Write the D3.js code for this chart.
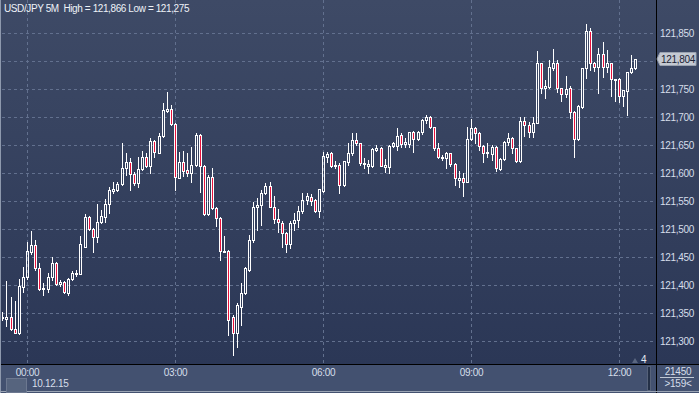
<!DOCTYPE html>
<html>
<head>
<meta charset="utf-8">
<script src="https://cdn.jsdelivr.net/npm/d3@7"></script>
<style>
  body { margin: 0; background: #2d3a58; }
  svg { display: block; font-family: "Liberation Sans", Arial, sans-serif; }
</style>
</head>
<body>
<svg id="chart" width="699" height="393"></svg>
<script>
// USD/JPY 5 minute bars, first bar 23:30 (bar 6 = 00:00)
const opens = [
  121.341,121.339,121.343,121.321,121.314,121.396,121.414,121.459,121.471,121.430,
  121.393,121.393,121.414,121.439,121.402,121.405,121.386,121.411,121.420,121.420,
  121.468,121.521,121.500,121.486,121.513,121.521,121.545,121.568,121.570,121.580,
  121.609,121.620,121.598,121.582,121.607,121.629,121.613,121.657,121.636,121.666,
  121.711,121.714,121.688,121.591,121.620,121.605,121.600,121.614,121.668,121.613,
  121.527,121.593,121.538,121.520,121.461,121.461,121.343,121.314,121.361,121.386,
  121.427,121.480,121.539,121.543,121.564,121.577,121.539,121.518,121.511,121.493,
  121.473,121.511,121.516,121.532,121.552,121.557,121.552,121.532,121.568,121.629,
  121.636,121.613,121.614,121.579,121.620,121.636,121.659,121.654,121.616,121.613,
  121.613,121.641,121.645,121.611,121.611,121.648,121.648,121.668,121.652,121.652,
  121.673,121.661,121.673,121.695,121.700,121.682,121.645,121.629,121.627,121.636,
  121.616,121.588,121.591,121.584,121.661,121.680,121.671,121.648,121.636,121.634,
  121.646,121.607,121.625,121.655,121.663,121.645,121.621,121.693,121.686,121.673,
  121.689,121.796,121.752,121.754,121.788,121.796,121.752,121.741,121.752,121.709,
  121.661,121.718,121.788,121.854,121.796,121.789,121.813,121.789,121.796,121.766,
  121.768,121.738,121.746,121.780,121.788
];
const highs = [
  121.352,121.407,121.379,121.371,121.411,121.432,121.477,121.496,121.480,121.439,
  121.404,121.421,121.450,121.441,121.409,121.407,121.413,121.425,121.427,121.488,
  121.527,121.523,121.502,121.545,121.534,121.554,121.575,121.584,121.584,121.654,
  121.636,121.627,121.602,121.629,121.639,121.636,121.663,121.659,121.671,121.725,
  121.745,121.721,121.689,121.638,121.639,121.636,121.646,121.671,121.670,121.614,
  121.596,121.609,121.539,121.521,121.488,121.463,121.346,121.368,121.404,121.432,
  121.489,121.548,121.555,121.570,121.582,121.584,121.559,121.536,121.514,121.495,
  121.514,121.529,121.541,121.564,121.564,121.563,121.554,121.571,121.638,121.638,
  121.638,121.621,121.618,121.621,121.654,121.671,121.671,121.654,121.627,121.623,
  121.645,121.650,121.646,121.625,121.650,121.655,121.680,121.671,121.663,121.673,
  121.675,121.675,121.696,121.704,121.702,121.682,121.654,121.632,121.638,121.636,
  121.618,121.604,121.600,121.682,121.696,121.682,121.673,121.650,121.654,121.650,
  121.648,121.627,121.657,121.671,121.664,121.645,121.700,121.700,121.691,121.700,
  121.818,121.796,121.766,121.802,121.821,121.802,121.752,121.773,121.755,121.711,
  121.721,121.788,121.866,121.859,121.798,121.823,121.834,121.820,121.796,121.768,
  121.770,121.748,121.780,121.811,121.804
];
const lows = [
  121.338,121.327,121.320,121.314,121.313,121.388,121.411,121.455,121.427,121.391,
  121.382,121.388,121.409,121.400,121.398,121.386,121.382,121.409,121.416,121.420,
  121.468,121.498,121.459,121.477,121.511,121.513,121.529,121.564,121.568,121.579,
  121.596,121.570,121.579,121.575,121.605,121.611,121.600,121.629,121.636,121.664,
  121.709,121.686,121.570,121.591,121.595,121.595,121.584,121.613,121.566,121.525,
  121.525,121.536,121.505,121.445,121.459,121.311,121.275,121.289,121.329,121.384,
  121.425,121.477,121.498,121.507,121.563,121.539,121.511,121.495,121.468,121.459,
  121.466,121.498,121.504,121.529,121.545,121.543,121.530,121.521,121.566,121.620,
  121.611,121.609,121.564,121.577,121.614,121.632,121.650,121.614,121.609,121.600,
  121.611,121.639,121.613,121.602,121.600,121.646,121.641,121.646,121.646,121.646,
  121.638,121.659,121.670,121.689,121.680,121.641,121.627,121.623,121.609,121.613,
  121.579,121.575,121.559,121.584,121.659,121.654,121.641,121.620,121.629,121.623,
  121.604,121.605,121.623,121.650,121.636,121.620,121.620,121.666,121.664,121.664,
  121.689,121.743,121.734,121.752,121.784,121.745,121.729,121.736,121.698,121.629,
  121.659,121.716,121.770,121.784,121.782,121.743,121.771,121.780,121.738,121.729,
  121.727,121.720,121.704,121.779,121.786
];
const closes = [
  121.343,121.343,121.321,121.314,121.398,121.414,121.461,121.471,121.430,121.393,
  121.395,121.414,121.439,121.402,121.405,121.388,121.411,121.421,121.421,121.473,
  121.521,121.500,121.486,121.513,121.523,121.545,121.570,121.571,121.580,121.609,
  121.620,121.598,121.582,121.607,121.629,121.613,121.657,121.638,121.666,121.713,
  121.714,121.688,121.593,121.620,121.604,121.600,121.614,121.668,121.613,121.527,
  121.593,121.538,121.520,121.461,121.459,121.338,121.314,121.364,121.386,121.430,
  121.480,121.539,121.543,121.564,121.577,121.539,121.518,121.513,121.493,121.473,
  121.511,121.516,121.532,121.552,121.559,121.550,121.532,121.571,121.630,121.634,
  121.613,121.614,121.579,121.621,121.636,121.659,121.654,121.618,121.618,121.616,
  121.643,121.645,121.613,121.614,121.648,121.654,121.666,121.652,121.655,121.673,
  121.661,121.673,121.695,121.700,121.682,121.645,121.629,121.627,121.636,121.616,
  121.591,121.591,121.584,121.661,121.680,121.671,121.648,121.636,121.638,121.646,
  121.609,121.625,121.655,121.663,121.645,121.621,121.693,121.686,121.673,121.689,
  121.796,121.752,121.755,121.789,121.796,121.752,121.741,121.750,121.709,121.661,
  121.720,121.788,121.854,121.796,121.789,121.813,121.789,121.796,121.768,121.768,
  121.738,121.748,121.780,121.788,121.804
];

const timeTickBars = [6, 42, 78, 114, 150];
const timeTickLabels = ["00:00", "03:00", "06:00", "09:00", "12:00"];
const priceTicks = [121.30, 121.35, 121.40, 121.45, 121.50, 121.55, 121.60, 121.65, 121.70, 121.75, 121.80, 121.85];
const dateLabel = "10.12.15";
const barCount = "21450";
const visibleBars = ">159<";

const svg = d3.select("#chart"),
      width = +svg.attr("width"),
      height = +svg.attr("height");

const plotRight = 656, plotBottom = 364;

const x = d3.scaleLinear().domain([6, 150]).range([27, 619]);
const y = d3.scaleLinear().domain([121.30, 121.85]).range([341, 33]);
const fmt = d => d3.format(".3f")(d).replace(".", ",");
const last = closes[closes.length - 1];
const lastY = Math.round(y(last));

const defs = svg.append("defs");
const grad = defs.append("linearGradient")
    .attr("id", "bg").attr("x1", 0).attr("y1", 0).attr("x2", 0).attr("y2", 1);
grad.append("stop").attr("offset", "0%").attr("stop-color", "#3e4a66");
grad.append("stop").attr("offset", "100%").attr("stop-color", "#2b3756");
defs.append("clipPath").attr("id", "plotclip")
  .append("rect").attr("x", 2).attr("y", 0).attr("width", plotRight - 2).attr("height", plotBottom);

// backgrounds
svg.append("rect").attr("width", width).attr("height", plotBottom).attr("fill", "url(#bg)");
svg.append("rect").attr("y", plotBottom).attr("width", width).attr("height", height - plotBottom)
    .attr("fill", "#435170");

// grid
const grid = svg.append("g").attr("stroke", "#62708e").attr("stroke-dasharray", "3,3");
grid.selectAll("line.h").data(priceTicks).enter().append("line")
    .attr("x1", 2).attr("x2", plotRight)
    .attr("y1", d => Math.round(y(d)) + 0.5).attr("y2", d => Math.round(y(d)) + 0.5);
grid.selectAll("line.v").data(timeTickBars).enter().append("line")
    .attr("y1", 0).attr("y2", plotBottom)
    .attr("x1", d => Math.round(x(d)) + 0.5).attr("x2", d => Math.round(x(d)) + 0.5);

// candles
const bars = opens.map((o, i) => ({ i, o, h: highs[i], l: lows[i], c: closes[i] }));
const cg = svg.append("g").attr("clip-path", "url(#plotclip)");
bars.forEach(d => {
    const cx = Math.round(x(d.i));
    const top = Math.round(y(Math.max(d.o, d.c)));
    const bot = Math.round(y(Math.min(d.o, d.c)));
    const hy = Math.round(y(d.h)), ly = Math.round(y(d.l));
    if (hy < top) cg.append("line").attr("x1", cx + 0.5).attr("x2", cx + 0.5)
        .attr("y1", hy).attr("y2", top).attr("stroke", "#fff");
    if (ly > bot) cg.append("line").attr("x1", cx + 0.5).attr("x2", cx + 0.5)
        .attr("y1", bot + 1).attr("y2", ly + 1).attr("stroke", "#fff");
    cg.append("rect")
        .attr("x", cx - 0.5).attr("width", 2)
        .attr("y", top + 0.5).attr("height", Math.max(bot - top, 1))
        .attr("fill", d.c < d.o ? "#e8123c" : "none")
        .attr("stroke", "#fff").attr("stroke-width", 1);
});

// frame lines
svg.append("line").attr("x1", 0).attr("x2", width).attr("y1", plotBottom + 0.5).attr("y2", plotBottom + 0.5)
    .attr("stroke", "#000");
svg.append("line").attr("x1", plotRight + 0.5).attr("x2", plotRight + 0.5).attr("y1", 0).attr("y2", height)
    .attr("stroke", "#000");
svg.append("line").attr("x1", 0.5).attr("x2", 0.5).attr("y1", 0).attr("y2", height).attr("stroke", "#8e99ad");
svg.append("line").attr("x1", 0).attr("x2", width).attr("y1", height - 1.5).attr("y2", height - 1.5).attr("stroke", "#9aa4b4");

// y axis (the label under the last-price tag is hidden by it)
const yAxis = svg.append("g")
    .attr("transform", `translate(${plotRight},0)`)
    .call(d3.axisRight(y)
        .tickValues(priceTicks.filter(p => Math.abs(y(p) - lastY) > 9))
        .tickFormat(fmt).tickSize(0).tickPadding(4));
yAxis.select(".domain").remove();
yAxis.selectAll("text").attr("fill", "#d6deea").attr("font-size", 10).attr("font-family", null).attr("letter-spacing", "-0.3");

// x axis
const xAxis = svg.append("g")
    .attr("transform", `translate(0,${plotBottom})`)
    .call(d3.axisBottom(x).tickValues(timeTickBars).tickFormat((d, i) => timeTickLabels[i]).tickSize(0).tickPadding(5));
xAxis.select(".domain").remove();
xAxis.selectAll("text").attr("fill", "#d6deea").attr("font-size", 10).attr("font-family", null).attr("letter-spacing", "-0.3");

// date box and label
svg.append("rect").attr("x", 6.5).attr("y", 378.5).attr("width", 20).attr("height", 14)
    .attr("fill", "#56647e").attr("stroke", "#6c7890");
svg.append("text").attr("x", 32).attr("y", 387).attr("font-size", 10).attr("letter-spacing", "-0.3")
    .attr("fill", "#d6deea").text(dateLabel);

// scroll marker
svg.append("rect").attr("x", 647.5).attr("y", 366.5).attr("width", 3).attr("height", 24)
    .attr("fill", "#243047").attr("stroke", "#56627a");

// right bottom counters
svg.append("text").attr("x", 678).attr("y", 375).attr("text-anchor", "middle").attr("font-size", 10)
    .attr("letter-spacing", "-0.3").attr("fill", "#d6deea").text(barCount);
svg.append("line").attr("x1", 660).attr("x2", 694).attr("y1", 377.5).attr("y2", 377.5).attr("stroke", "#c0c8d4");
svg.append("text").attr("x", 678).attr("y", 387).attr("text-anchor", "middle").attr("font-size", 10)
    .attr("letter-spacing", "-0.3").attr("fill", "#d6deea").text(visibleBars);

// shift marker
svg.append("path").attr("d", "M632,363 L635,358 L638,363 Z").attr("fill", "#5a6680");
svg.append("text").attr("x", 641).attr("y", 363).attr("font-size", 10).attr("fill", "#e8eef5").text("4");

// last price tag
svg.append("path")
    .attr("d", `M657,${lastY} L660,${lastY - 6.5} L696,${lastY - 6.5} L696,${lastY + 6.5} L660,${lastY + 6.5} Z`)
    .attr("fill", "#c4c9d2").attr("stroke", "#9aa2b0");
svg.append("text").attr("x", 661).attr("y", lastY + 3.5).attr("font-size", 10).attr("letter-spacing", "-0.3")
    .attr("fill", "#1a2234").text(fmt(last));

// title
svg.append("text").attr("x", 4).attr("y", 12).attr("font-size", 10).attr("letter-spacing", "-0.4")
    .attr("fill", "#eef2f8")
    .text(`USD/JPY 5M  High = ${fmt(d3.max(highs))} Low = ${fmt(d3.min(lows))}`)
    .style("white-space", "pre");
</script>
</body>
</html>
